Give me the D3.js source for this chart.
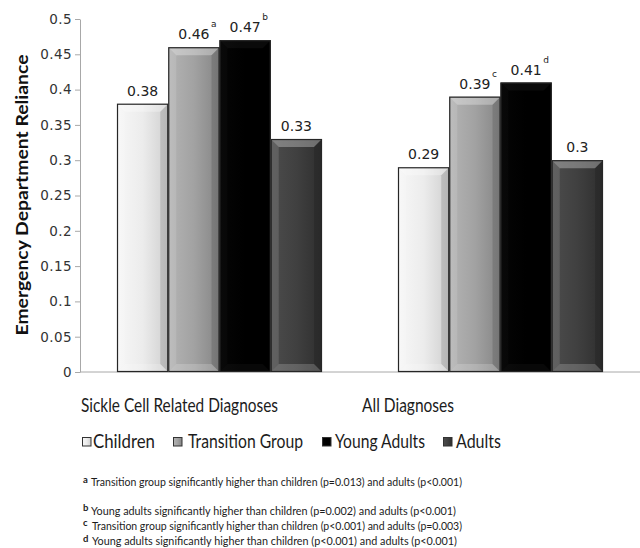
<!DOCTYPE html>
<html>
<head>
<meta charset="utf-8">
<script src="https://cdn.jsdelivr.net/npm/d3@7"></script>
<style>
  html, body { margin: 0; padding: 0; background: #fff; }
  svg { display: block; }
</style>
</head>
<body>
<svg id="chart" width="640" height="548"></svg>
<script>
// ---- data ----
const categories = ["Sickle Cell Related Diagnoses", "All Diagnoses"];
const groups = ["Children", "Transition Group", "Young Adults", "Adults"];
const children = [0.38, 0.29];
const transitionGroup = [0.46, 0.39];
const youngAdults = [0.47, 0.41];
const adults = [0.33, 0.30];
const transitionMarks = ["a", "c"];
const youngAdultMarks = ["b", "d"];
const yTicks = [0, 0.05, 0.1, 0.15, 0.2, 0.25, 0.3, 0.35, 0.4, 0.45, 0.5];
const yLabel = "Emergency Department Reliance";
const footnoteMarks = ["a", "b", "c", "d"];
const footnotes = [
  "Transition group significantly higher than children (p=0.013) and adults (p<0.001)",
  "Young adults significantly higher than children (p=0.002) and adults (p<0.001)",
  "Transition group significantly higher than children (p<0.001) and adults (p=0.003)",
  "Young adults significantly higher than children (p<0.001) and adults (p<0.001)"
];

const seriesValues = [children, transitionGroup, youngAdults, adults];
const seriesMarks = [["", ""], transitionMarks, youngAdultMarks, ["", ""]];

// bar shading: left, middle, right tones of each series
const shades = [
  ["#f7f7f7", "#ececec", "#cfcfcf"],
  ["#b4b4b4", "#a2a2a2", "#858585"],
  ["#050505", "#000000", "#000000"],
  ["#4c4c4c", "#404040", "#2e2e2e"]
];

const rows = categories.map((c, i) => ({
  category: c,
  bars: groups.map((g, j) => ({ group: g, gi: j, value: seriesValues[j][i], mark: seriesMarks[j][i] }))
}));

const svg = d3.select("#chart");
const defs = svg.append("defs");

shades.forEach((s, i) => {
  const lg = defs.append("linearGradient").attr("id", "g" + i)
    .attr("x1", "0").attr("x2", "1").attr("y1", "0").attr("y2", "0");
  lg.append("stop").attr("offset", "0").attr("stop-color", s[0]);
  lg.append("stop").attr("offset", "0.5").attr("stop-color", s[1]);
  lg.append("stop").attr("offset", "1").attr("stop-color", s[2]);
});

// ---- scales ----
const y = d3.scaleLinear().domain([0, 0.5]).range([372, 19]);
const x0 = d3.scaleBand().domain(categories).range([80, 640])
  .paddingInner(0.2705).paddingOuter(0.1317);
const x1 = d3.scaleBand().domain(groups).range([0, x0.bandwidth()]);

const fontCal = "Lato, 'Open Sans', sans-serif";
const fontNum = "'DejaVu Sans', Verdana, sans-serif";

// ---- y axis ----
const yAxis = d3.axisLeft(y).tickValues(yTicks).tickSize(5).tickSizeOuter(0)
  .tickPadding(3).tickFormat(d3.format("~g"));
const gy = svg.append("g").attr("transform", "translate(80,0)").call(yAxis);
gy.select(".domain").attr("stroke", "#a8a8a8");
gy.selectAll(".tick line").attr("stroke", "#a8a8a8");
gy.selectAll(".tick text").attr("font-family", fontNum).attr("font-size", 13.5)
  .attr("fill", "#333").attr("letter-spacing", "0.4");

// baseline
svg.append("line")
  .attr("x1", x0.range()[0]).attr("x2", x0.range()[1])
  .attr("y1", y(0)).attr("y2", y(0))
  .attr("stroke", "#a8a8a8");

// ---- bars ----
const bev = 8;
const gcat = svg.selectAll("g.cat").data(rows).join("g").attr("class", "cat")
  .attr("transform", d => `translate(${x0(d.category)},0)`);

const gbar = gcat.selectAll("g.bar").data(d => d.bars).join("g").attr("class", "bar");

gbar.each(function(d) {
  const g = d3.select(this);
  const bx = x1(d.group), bw = x1.bandwidth();
  const top = y(d.value), bot = y(0), h = bot - top;
  g.append("rect").attr("x", bx).attr("y", top).attr("width", bw).attr("height", h)
    .attr("fill", `url(#g${d.gi})`);
  const poly = pts => g.append("polygon").attr("points", pts.map(p => p.join(",")).join(" "));
  // top bevel
  poly([[bx, top], [bx + bw, top], [bx + bw - bev, top + bev], [bx + bev, top + bev]])
    .attr("fill", "#fff").attr("fill-opacity", d.gi === 2 ? 0.04 : 0.3);
  // left bevel
  poly([[bx, top], [bx + bev, top + bev], [bx + bev, bot - bev], [bx, bot]])
    .attr("fill", "#fff").attr("fill-opacity", d.gi === 2 ? 0.02 : 0.12);
  // right bevel
  poly([[bx + bw, top], [bx + bw - bev, top + bev], [bx + bw - bev, bot - bev], [bx + bw, bot]])
    .attr("fill", "#000").attr("fill-opacity", 0.12);
  // bottom bevel
  poly([[bx, bot], [bx + bw, bot], [bx + bw - bev, bot - bev], [bx + bev, bot - bev]])
    .attr("fill", "#fff").attr("fill-opacity", d.gi === 2 ? 0.03 : 0.18);
  g.append("rect").attr("x", bx + 0.5).attr("y", top + 0.5).attr("width", bw - 1).attr("height", h - 1)
    .attr("fill", "none").attr("stroke", "#262626").attr("stroke-width", 1.2);

  // value label
  const cx = bx + bw / 2;
  const t = g.append("text").attr("x", cx).attr("y", top - 8)
    .attr("text-anchor", "middle").attr("font-family", fontNum).attr("font-size", 14)
    .attr("fill", "#222").text(String(d.value));
  if (d.mark) {
    const w = t.node().getComputedTextLength();
    g.append("text").attr("x", cx + w / 2 + 1.5).attr("y", top - 20)
      .attr("font-family", fontNum).attr("font-size", 9).attr("fill", "#222").text(d.mark);
  }
});

// ---- axis title ----
svg.append("text")
  .attr("transform", `translate(28,${(55 + 335) / 2}) rotate(-90)`)
  .attr("text-anchor", "middle").attr("font-family", fontCal).attr("font-weight", 700)
  .attr("font-size", 17.5).attr("fill", "#111")
  .attr("textLength", 281).attr("lengthAdjust", "spacingAndGlyphs")
  .text(yLabel);

// ---- category labels ----
const catWidths = [197, 92];
svg.selectAll("text.catlabel").data(categories).join("text").attr("class", "catlabel")
  .attr("x", d => x0(d) - 36).attr("y", 412)
  .attr("font-family", fontCal).attr("font-size", 19).attr("fill", "#1c1c1c")
  .attr("textLength", (d, i) => catWidths[i]).attr("lengthAdjust", "spacingAndGlyphs")
  .text(d => d);

// ---- legend ----
const legendX = [82, 173, 322, 443];
const legendW = [62, 115, 90, 45];
const lg = svg.selectAll("g.leg").data(groups).join("g").attr("class", "leg")
  .attr("transform", (d, i) => `translate(${legendX[i]},437)`);
lg.append("rect").attr("x", 0.5).attr("y", 0.5).attr("width", 8.5).attr("height", 8.5)
  .attr("fill", (d, i) => `url(#g${i})`).attr("stroke", "#333").attr("stroke-width", 1);
lg.append("text").attr("x", (d, i) => i === 0 ? 11 : (i === 1 ? 15 : 13)).attr("y", 10.5)
  .attr("font-family", fontCal).attr("font-size", 18.5).attr("fill", "#1c1c1c")
  .attr("textLength", (d, i) => legendW[i]).attr("lengthAdjust", "spacingAndGlyphs")
  .text(d => d);

// ---- footnotes ----
const noteBase = [486, 514.5, 530, 545];
const noteMarkBase = [483, 511, 526, 541.5];
const noteX = [91, 91, 92, 92];
const noteW = [371, 365, 370, 365];
footnotes.forEach((f, i) => {
  svg.append("text").attr("x", 83).attr("y", noteMarkBase[i])
    .attr("font-family", fontCal).attr("font-weight", 700).attr("font-size", 9.5)
    .attr("fill", "#222").text(footnoteMarks[i]);
  svg.append("text").attr("x", noteX[i]).attr("y", noteBase[i])
    .attr("font-family", fontCal).attr("font-size", 11.5).attr("fill", "#1c1c1c")
    .attr("textLength", noteW[i]).attr("lengthAdjust", "spacingAndGlyphs")
    .text(f);
});
</script>
</body>
</html>
